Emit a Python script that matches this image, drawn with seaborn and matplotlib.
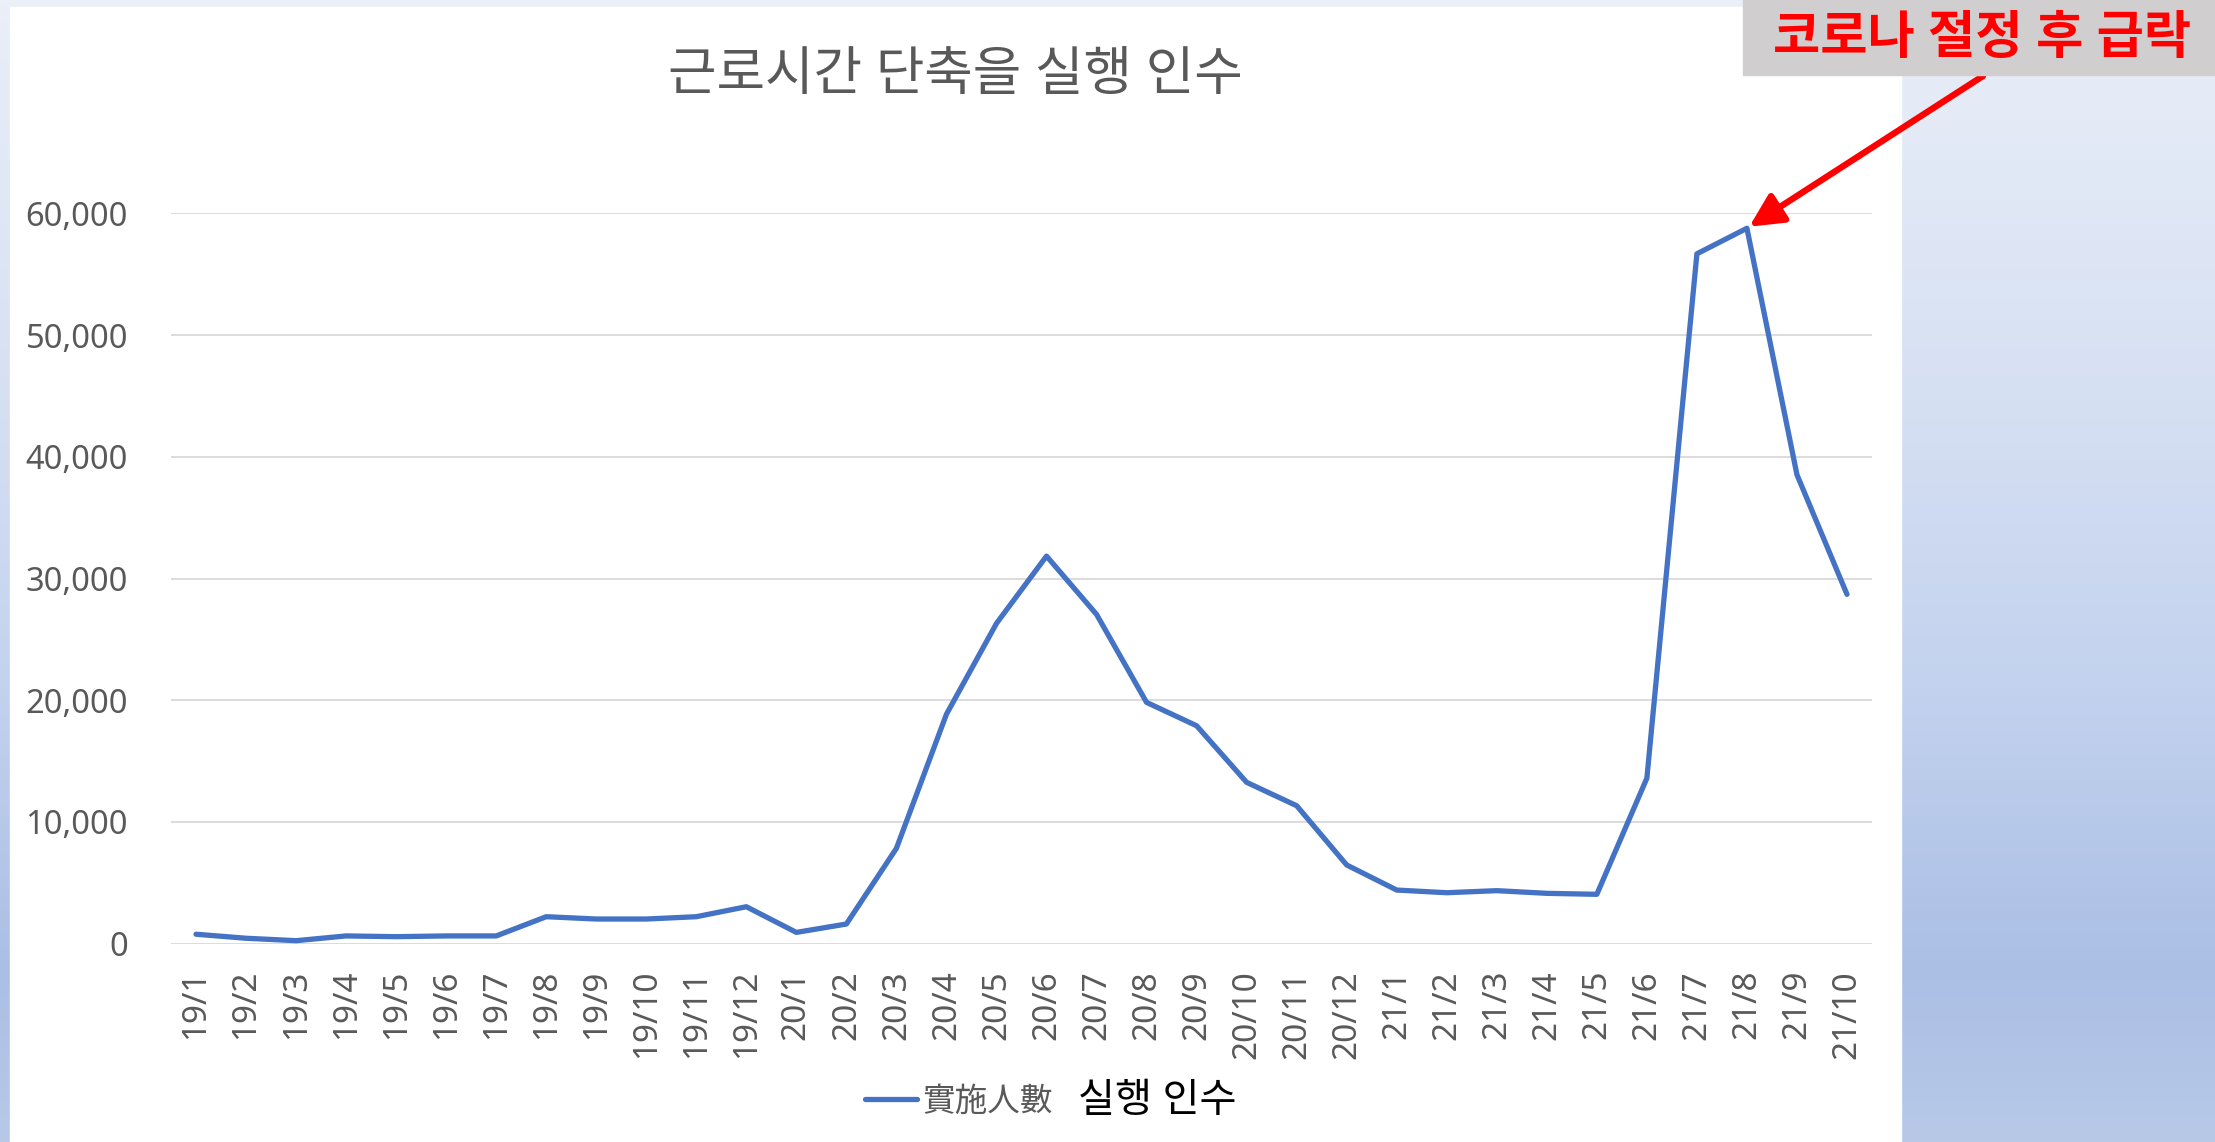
import numpy as np
import pandas as pd
import matplotlib
matplotlib.use('Agg')
import matplotlib.pyplot as plt
from matplotlib.colors import LinearSegmentedColormap
from matplotlib.patches import Rectangle
from matplotlib.ticker import FuncFormatter
import seaborn as sns

# data
months = ['19/1', '19/2', '19/3', '19/4', '19/5', '19/6', '19/7', '19/8', '19/9', '19/10',
          '19/11', '19/12', '20/1', '20/2', '20/3', '20/4', '20/5', '20/6', '20/7', '20/8',
          '20/9', '20/10', '20/11', '20/12', '21/1', '21/2', '21/3', '21/4', '21/5', '21/6',
          '21/7', '21/8', '21/9', '21/10']
people = [770, 440, 240, 630, 570, 630, 630, 2210, 2020, 2020,
          2210, 3030, 920, 1610, 7830, 18850, 26310, 31840, 27050, 19820,
          17900, 13250, 11330, 6460, 4400, 4180, 4350, 4130, 4050, 13590,
          56680, 58780, 38530, 28700]
y_ticks = [0, 10000, 20000, 30000, 40000, 50000, 60000]

title = '근로시간 단축을 실행 인수'
series_name = '實施人數'
series_note = '실행 인수'
callout = '코로나 절정 후 급락'

df = pd.DataFrame({'month': months, 'people': people})

sns.set_theme(style='white')
plt.rcParams['font.family'] = ['Noto Sans', 'Noto Sans CJK KR', 'DejaVu Sans']

W, H = 2215, 1142
fig = plt.figure(figsize=(W / 100, H / 100), dpi=100)

# slide background: vertical blue gradient with a white panel on top
bg = fig.add_axes([0, 0, 1, 1], zorder=-5)
grad_cmap = LinearSegmentedColormap.from_list(
    'slide', [(0.0, '#eaeff8'), (0.35, '#d6e0f3'), (0.6, '#c3d2ee'),
              (0.85, '#abbfe5'), (1.0, '#b8c9e8')])
grad = np.linspace(0, 1, 256).reshape(-1, 1)
bg.imshow(grad, cmap=grad_cmap, aspect='auto', extent=[0, 1, 0, 1], origin='upper')
bg.add_patch(Rectangle((10 / W, 0), (1901 - 10) / W, (H - 7) / H,
                       transform=bg.transAxes, color='white', zorder=2))
bg.set_xlim(0, 1)
bg.set_ylim(0, 1)
bg.axis('off')

ax = fig.add_axes([171 / W, 1 - 943.6 / H, (1872 - 171) / W, (943.6 - 213.4) / H])
ax.set_facecolor('white')

sns.lineplot(data=df, x='month', y='people', ax=ax, sort=False,
             color='#4472c4', lw=3.8, label=series_name)

ax.set_xlim(-0.5, len(months) - 0.5)
ax.set_ylim(0, 60000)
ax.set_yticks(y_ticks)
ax.yaxis.set_major_formatter(FuncFormatter(lambda v, p: f'{v:,.0f}'))
ax.grid(axis='y', color='#d9d9d9', lw=1.3)
ax.grid(axis='x', visible=False)
ax.set_axisbelow(True)
for s in ax.spines.values():
    s.set_visible(False)
ax.set_xlabel('')
ax.set_ylabel('')
ax.tick_params(axis='y', length=0, pad=31, labelsize=23.5, labelcolor='#595959')
ax.tick_params(axis='x', length=0, pad=19, labelsize=24, labelcolor='#595959',
               labelrotation=90)

fig.text(955 / W, 1 - 77 / H, title, ha='center', va='center',
         fontsize=38, color='#595959')

# legend at the bottom plus the Korean note next to it
leg = ax.legend(loc='center left', bbox_to_anchor=(865 / W, 1 - 1102 / H),
                bbox_transform=fig.transFigure, frameon=False, fontsize=23.5,
                handlelength=1.6, handletextpad=0.15, borderpad=0, borderaxespad=0)
for t in leg.get_texts():
    t.set_color('#595959')
fig.text(1078 / W, 1 - 1102 / H, series_note, ha='left', va='center',
         fontsize=29, color='black')

# callout box and arrow to the peak
fig.patches.append(Rectangle((1743 / W, 1 - 75 / H), (W - 1743) / W, 75 / H,
                             transform=fig.transFigure, color='#d0cece', zorder=3))
fig.text(1982 / W, 1 - 39 / H, callout, ha='center', va='center', fontsize=37,
         fontweight='bold', color='#ff0000', zorder=4)
peak = int(np.argmax(people))
ax.annotate('', xy=(peak, people[peak]), xycoords='data',
            xytext=(1983 / W, 1 - 76 / H), textcoords='figure fraction',
            arrowprops=dict(arrowstyle='-|>', color='#ff0000', lw=4.6,
                            mutation_scale=50, shrinkA=0, shrinkB=2),
            annotation_clip=False)

fig.savefig('out.png', dpi=100)
